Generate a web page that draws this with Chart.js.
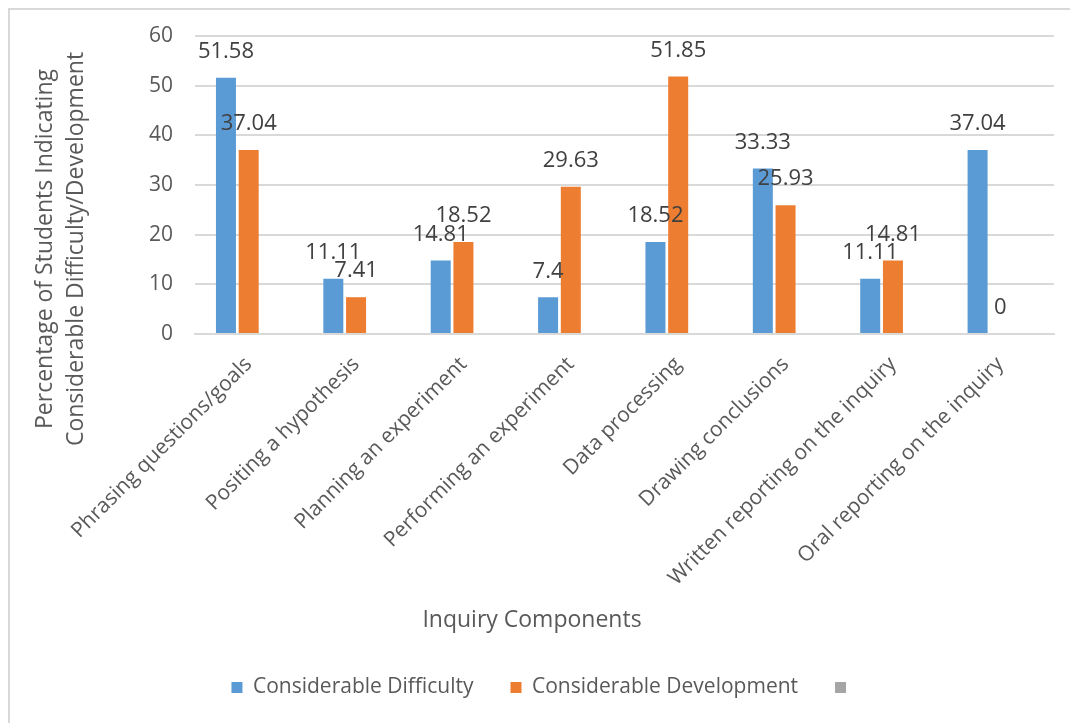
<!DOCTYPE html>
<html>
<head>
<meta charset="utf-8">
<script src="https://cdn.jsdelivr.net/npm/chart.js@4"></script>
<style>
  body { margin: 0; background: #fff; }
  #wrap { position: relative; width: 1070px; height: 723px; overflow: hidden; }
  #frame { position: absolute; left: 8px; top: 8px; width: 1100px; height: 800px;
           border-left: 2px solid #d9d9d9; border-top: 2px solid #d9d9d9; }
  #chart { position: absolute; left: 0; top: 0; }
</style>
</head>
<body>
<div id="wrap">
  <div id="frame"></div>
  <canvas id="chart" width="1070" height="723"></canvas>
</div>
<script>
const components = [
  "Phrasing questions/goals",
  "Positing a hypothesis",
  "Planning an experiment",
  "Performing an experiment",
  "Data processing",
  "Drawing conclusions",
  "Written reporting on the inquiry",
  "Oral reporting on the inquiry"
];
const difficulty = [51.58, 11.11, 14.81, 7.4, 18.52, 33.33, 11.11, 37.04];
const development = [37.04, 7.41, 18.52, 29.63, 51.85, 25.93, 14.81, 0];
const emptySeries = [null, null, null, null, null, null, null, null];
const yTicks = [0, 10, 20, 30, 40, 50, 60];

const FONT = "'Open Sans', sans-serif";
const TEXT = "#595959";

Chart.defaults.font.family = FONT;
Chart.defaults.color = TEXT;

// value labels above the two real series
const barLabels = {
  id: "barLabels",
  afterDatasetsDraw(chart) {
    const ctx = chart.ctx;
    ctx.save();
    ctx.font = "22px " + FONT;
    ctx.fillStyle = "#404040";
    ctx.textAlign = "center";
    ctx.textBaseline = "middle";
    [0, 1].forEach((d) => {
      const meta = chart.getDatasetMeta(d);
      meta.data.forEach((bar, i) => {
        const v = chart.data.datasets[d].data[i];
        if (v === null) return;
        ctx.fillText(String(v), bar.x, bar.y - 26);
      });
    });
    ctx.restore();
  }
};

// axis titles are centred on the whole chart, not on the plot area
const axisTitles = {
  id: "axisTitles",
  afterDraw(chart) {
    const ctx = chart.ctx;
    ctx.save();
    ctx.font = "23px " + FONT;
    ctx.fillStyle = TEXT;
    ctx.textAlign = "center";
    ctx.textBaseline = "middle";
    ctx.fillText("Inquiry Components", 532, 620);
    ctx.translate(60, 249);
    ctx.rotate(-Math.PI / 2);
    ctx.fillText("Percentage of Students Indicating", 0, -15);
    ctx.fillText("Considerable Difficulty/Development", 0, 16);
    ctx.restore();
  }
};

new Chart(document.getElementById("chart"), {
  type: "bar",
  data: {
    labels: components,
    datasets: [
      {
        label: "Considerable Difficulty",
        data: difficulty,
        backgroundColor: "#5b9bd5",
        categoryPercentage: 0.635,
        barPercentage: 0.88
      },
      {
        label: "Considerable Development",
        data: development,
        backgroundColor: "#ed7d31",
        categoryPercentage: 0.635,
        barPercentage: 0.88
      },
      {
        label: "",
        data: emptySeries,
        backgroundColor: "#a5a5a5",
        categoryPercentage: 0.635,
        barPercentage: 0.88
      }
    ]
  },
  options: {
    responsive: false,
    animation: false,
    // left padding nudges the legend to the right; y axis width makes up the rest
    layout: { padding: { top: 36, right: 16, left: 34, bottom: 15 } },
    plugins: {
      legend: {
        position: "bottom",
        labels: {
          boxWidth: 11,
          boxHeight: 11,
          padding: 37,
          font: { size: 21 },
          color: TEXT
        }
      },
      tooltip: { enabled: false }
    },
    scales: {
      x: {
        grid: { display: false },
        border: { color: "#d9d9d9", width: 2 },
        ticks: {
          minRotation: 45,
          maxRotation: 45,
          padding: 10,
          font: { size: 21 },
          color: TEXT
        },
        afterFit: (s) => { s.height = 306; }
      },
      y: {
        min: 0,
        max: 60,
        afterBuildTicks: (s) => { s.ticks = yTicks.map((v) => ({ value: v })); },
        grid: { color: "#d9d9d9", lineWidth: 2, drawTicks: false },
        border: { display: false },
        ticks: {
          padding: 22,
          font: { size: 21 },
          color: TEXT
        },
        afterFit: (s) => { s.width = 161; }
      }
    }
  },
  plugins: [barLabels, axisTitles]
});
</script>
</body>
</html>
